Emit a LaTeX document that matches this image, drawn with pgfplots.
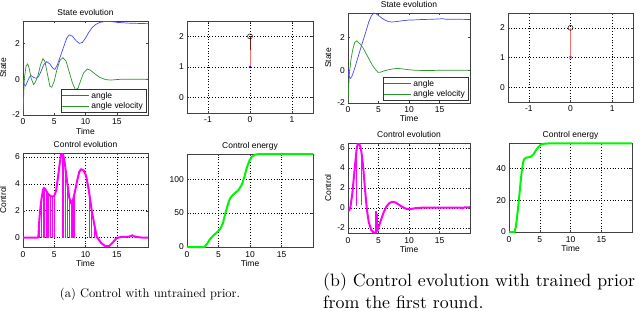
\documentclass[border=0pt]{standalone}
\usepackage{fontspec}
\usepackage{pgfplots}
\pgfplotsset{compat=1.18}
\newfontfamily\arialfont{Liberation Sans}
\newfontfamily\cmten{lmroman10-regular.otf}
\newcommand{\af}{\arialfont\fontsize{8.5}{9}\selectfont}
\definecolor{mblue}{RGB}{70,70,255}
\definecolor{mgreen}{RGB}{40,150,40}
\definecolor{mmag}{RGB}{255,0,255}
\definecolor{mlime}{RGB}{0,245,0}
\definecolor{mpink}{RGB}{255,110,110}
\definecolor{mdark}{RGB}{120,20,20}
\pgfplotsset{
  mat/.style={scale only axis, axis line style={black!75, line width=0.5bp},
    tick align=inside, major tick length=2bp, tick style={black!75, line width=0.4bp},
    ticklabel style={font=\af}, label style={font=\af},
    title style={font=\af, anchor=base, inner sep=0pt},
    xticklabel style={anchor=base, yshift=-10bp, inner sep=0pt},
    yticklabel style={anchor=east, xshift=-3bp, inner sep=0pt},
    xlabel style={at={(0.5,0)}, anchor=base, yshift=-19bp, inner sep=0pt},
    ylabel style={at={(0,0.5)}, anchor=base, yshift=17bp, inner sep=0pt},
    /pgf/number format/assume math mode=true,
    xmin=0, xmax=20, xtick={0,5,10,15}},
  gr/.style={grid=major, major grid style={black, line width=0.5bp, dash pattern=on 0.8bp off 2bp}},
  leg/.style={legend style={at={(1,0)}, anchor=south east, xshift=-2bp, yshift=2bp, draw=black!80, line width=0.5bp, font=\af, inner sep=1bp, row sep=-1.5bp},
    legend cell align=left,
    legend image code/.code={\draw[##1] (0bp,0bp) -- (27bp,0bp);}},
  pend/.style={mat, gr, xmin=-1.5, xmax=1.5, ymin=-0.5, ymax=2.5, xtick={-1,0,1}, ytick={0,1,2}},
}
\begin{document}
\begin{tikzpicture}[x=1bp,y=1bp]
\useasboundingbox (0,0) rectangle (640,310);
% ---------- (a) state
\begin{axis}[mat, leg, at={(23bp,195bp)}, anchor=south west, width=125bp, height=94bp,
  ymin=-2, ymax=3.25, ytick={-2,0,2}, title={State evolution}, xlabel={Time}, ylabel={State}]
\addplot[mblue, line width=0.7bp] coordinates {(0,0) (0.2,-0.3) (0.4,-0.38) (0.7,-0.15) (1.0,0.1) (1.3,0.2) (1.7,0.1) (2.1,0.05) (2.5,0.15) (2.9,0.45) (3.3,0.8) (3.8,0.98) (4.3,0.85) (4.8,0.6) (5.1,0.55) (5.5,0.8) (6.0,1.3) (6.5,1.8) (7.0,2.3) (7.4,2.48) (7.9,2.4) (8.5,2.15) (9.0,2.0) (9.5,2.05) (10.0,2.3) (10.5,2.6) (11.0,2.85) (11.6,3.05) (12.3,3.17) (13.0,3.22) (14,3.22) (15,3.18) (16,3.15) (17,3.13) (18,3.12) (20,3.1)};
\addlegendentry{angle}
\addplot[mgreen, line width=0.7bp] coordinates {(0,-2) (0.05,-1.5) (0.2,0) (0.5,0.75) (0.75,0.85) (1.0,0.6) (1.3,0.05) (1.7,-0.3) (2.0,-0.15) (2.4,0.2) (2.8,0.8) (3.2,1.15) (3.5,1.0) (3.9,0.3) (4.3,-0.4) (4.6,-0.45) (5.0,-0.1) (5.4,0.5) (5.9,1.05) (6.4,1.2) (6.9,1.0) (7.4,0.4) (7.9,-0.2) (8.4,-0.6) (8.8,-0.5) (9.2,-0.1) (9.7,0.35) (10.3,0.57) (10.8,0.5) (11.5,0.3) (12.3,0.1) (13.2,-0.02) (14,-0.05) (15,-0.02) (16,0) (20,0)};
\addlegendentry{angle velocity}
\end{axis}
% ---------- (a) pendulum
\begin{axis}[pend, at={(187bp,197bp)}, anchor=south west, width=126bp, height=92bp]
\addplot[mpink, line width=1bp] coordinates {(0,1) (0,2)};
\addplot[mdark, line width=1bp] coordinates {(0,1.55) (0,2)};
\addplot[only marks, mark=o, mark size=2.5bp, black, mark options={line width=0.5bp}] coordinates {(0,2)};
\addplot[only marks, mark=x, mark size=1.5bp, blue] coordinates {(0,1)};
\end{axis}
% ---------- (a) control evolution
\begin{axis}[mat, gr, at={(23bp,63bp)}, anchor=south west, width=125bp, height=94bp,
  ymin=-0.7, ymax=6.3, ytick={0,2,4,6}, title={Control evolution}, xlabel={Time}, ylabel={Control}]
\addplot[mmag, line width=1.2bp, unbounded coords=jump] coordinates {(2.7,0) (2.7,1.8) (2.7,nan) (3.0,0) (3.0,3.0) (3.0,nan) (3.35,0) (3.35,3.7) (3.35,nan) (3.7,0) (3.7,3.5) (3.7,nan) (4.0,0) (4.0,3.25) (4.0,nan) (4.4,0) (4.4,3.1) (4.4,nan) (4.7,0) (4.7,3.05) (4.7,nan) (5.0,0) (5.0,3.1)};
\addplot[mmag, line width=1.2bp, unbounded coords=jump] coordinates {(6.4,0) (6.4,6.2) (6.4,nan) (6.75,0) (6.75,5.3) (6.75,nan) (7.1,0) (7.1,4.0) (7.1,nan) (7.4,0) (7.4,3.0) (7.4,nan) (7.7,0) (7.7,2.55) (7.7,nan) (8.0,0) (8.0,2.8) (8.0,nan) (8.3,0) (8.3,3.4)};
\addplot[mmag, line width=1.2bp, unbounded coords=jump] coordinates {(10.6,0) (10.6,3.3) (10.6,nan) (11.0,0) (11.0,2.0) (11.0,nan) (11.4,0) (11.4,1.0)};
\addplot[mmag, line width=2bp, line join=round] coordinates {(0,0) (2.45,0) (2.6,1.2) (2.7,1.8) (2.85,2.5) (3.0,3.0) (3.2,3.55) (3.35,3.7) (3.55,3.62) (3.7,3.5) (4.0,3.25) (4.4,3.1) (4.7,3.05) (5.0,3.1) (5.3,3.5) (5.6,4.5) (5.9,5.6) (6.1,6.2) (6.4,6.2) (6.6,5.8) (6.75,5.3) (7.1,4.0) (7.4,3.0) (7.7,2.55) (8.0,2.8) (8.3,3.4) (8.7,4.3) (9.0,4.9) (9.3,5.1) (9.7,5.0) (10.1,4.6) (10.5,3.6) (10.6,3.3) (11.0,2.0) (11.4,1.0) (11.8,0.05) (12.5,-0.4) (13.2,-0.65) (13.8,-0.62) (14.4,-0.35) (15.0,-0.02) (15.8,0.05) (16.6,0.06) (17.2,0.1) (17.5,0.18) (17.8,0.08) (18.5,0.03) (19.2,0.0) (20,0)};
\end{axis}
% ---------- (a) control energy
\begin{axis}[mat, gr, clip=false, at={(187bp,63bp)}, anchor=south west, width=126bp, height=93bp,
  ymin=0, ymax=137, ytick={0,50,100}, title={Control energy}, xlabel={Time}]
\addplot[mlime, line width=2bp, line join=round] coordinates {(0,0) (2.8,0) (3.2,5) (3.6,11) (4.2,17) (4.8,22) (5.3,27) (5.7,35) (6.1,50) (6.5,63) (6.8,71) (7.2,76) (7.7,80) (8.2,84) (8.7,92) (9.1,103) (9.5,117) (9.9,127) (10.3,133) (10.8,136) (11.5,137) (20,137)};
\end{axis}
% ---------- (b) state
\begin{axis}[mat, leg, at={(348bp,207bp)}, anchor=south west, width=122bp, height=90bp,
  ymin=-2, ymax=3.5, ytick={-2,0,2}, title={State evolution}, xlabel={Time}, ylabel={State}]
\addplot[mblue, line width=0.7bp] coordinates {(0,0) (0.15,-0.35) (0.35,-0.5) (0.6,-0.4) (0.9,-0.1) (1.2,0.25) (1.6,0.75) (2.0,1.25) (2.5,1.85) (3.0,2.45) (3.4,2.95) (3.8,3.3) (4.2,3.5) (4.6,3.45) (5.0,3.35) (5.5,3.2) (6.0,3.08) (6.6,2.98) (7.2,2.95) (8,2.98) (9,3.03) (10,3.07) (11,3.08) (12,3.1) (14,3.12) (15.5,3.15) (16,3.12) (18,3.12) (20,3.1)};
\addlegendentry{angle}
\addplot[mgreen, line width=0.7bp] coordinates {(0,-2) (0.05,-1.5) (0.2,-0.3) (0.5,0.7) (0.8,1.3) (1.1,1.7) (1.4,1.8) (1.7,1.7) (2.0,1.6) (2.5,1.35) (3.0,1.0) (3.5,0.65) (4.0,0.3) (4.5,0.05) (4.9,-0.12) (5.3,-0.12) (5.8,-0.05) (6.5,0.02) (7.3,0.08) (8.2,0.12) (9,0.08) (10,0.03) (11,0.0) (13,-0.02) (15,0) (20,0)};
\addlegendentry{angle velocity}
\end{axis}
% ---------- (b) pendulum
\begin{axis}[pend, at={(508bp,208bp)}, anchor=south west, width=125bp, height=89bp]
\addplot[mpink, line width=1bp] coordinates {(0,1) (0,2)};
\addplot[only marks, mark=o, mark size=2.5bp, black, mark options={line width=0.5bp}] coordinates {(0,2)};
\addplot[only marks, mark=x, mark size=1.5bp, blue] coordinates {(0,1)};
\end{axis}
% ---------- (b) control evolution
\begin{axis}[mat, gr, at={(348bp,77bp)}, anchor=south west, width=122bp, height=90bp,
  ymin=-2.5, ymax=6.5, ytick={-2,0,2,4,6}, title={Control evolution}, xlabel={Time}, ylabel={Control}]
\addplot[mmag, line width=1.2bp, unbounded coords=jump] coordinates {(1.4,0.2) (1.4,5.8) (1.4,nan) (2.2,0.3) (2.2,5.6) (2.2,nan) (4.6,-0.3) (4.6,-2.4) (4.6,nan) (4.9,-0.6) (4.9,-2.15)};
\addplot[mmag, line width=2bp, line join=round] coordinates {(0,-0.3) (0.2,-0.25) (0.4,0.1) (0.7,1.4) (1.0,3.3) (1.3,5.2) (1.4,5.8) (1.6,6.45) (1.8,6.45) (2.0,6.2) (2.2,5.6) (2.5,4.0) (2.8,1.8) (3.1,-0.2) (3.4,-1.4) (3.8,-2.2) (4.2,-2.45) (4.5,-2.45) (4.6,-2.4) (4.9,-2.15) (5.3,-1.4) (5.8,-0.5) (6.3,0.15) (6.8,0.5) (7.3,0.62) (7.8,0.55) (8.3,0.35) (8.8,0.15) (9.3,-0.02) (9.8,-0.12) (10.3,-0.1) (11,-0.02) (12,0.03) (14,0.05) (16,0.05) (18,0.05) (18.6,0.05) (18.8,-0.05) (19,0.05) (20,0.08)};
\end{axis}
% ---------- (b) control energy
\begin{axis}[mat, gr, clip=false, at={(509bp,78bp)}, anchor=south west, width=123bp, height=89bp,
  ymin=0, ymax=56, ytick={0,20,40}, title={Control energy}, xlabel={Time}]
\addplot[mlime, line width=2bp, line join=round] coordinates {(0,0) (0.9,0) (1.1,3) (1.3,9) (1.5,16) (1.7,24) (1.9,32) (2.1,39) (2.3,44) (2.5,46) (2.8,46.8) (3.2,47) (3.6,47.5) (4.0,49) (4.4,51.5) (4.8,53.5) (5.2,55) (5.8,55.6) (7,55.8) (20,55.8)};
\end{axis}
% ---------- captions
\node[anchor=base, font=\cmten\fontsize{12.5}{15}\selectfont, inner sep=0pt] at (150,13) {(a) Control with untrained prior.};
\node[anchor=base west, font=\cmten\fontsize{17.9}{21.5}\selectfont, inner sep=0pt] at (323,24) {(b) Control evolution with trained prior};
\node[anchor=base west, font=\cmten\fontsize{17.9}{21.5}\selectfont, inner sep=0pt] at (323,2) {from the first round.};
\end{tikzpicture}
\end{document}
